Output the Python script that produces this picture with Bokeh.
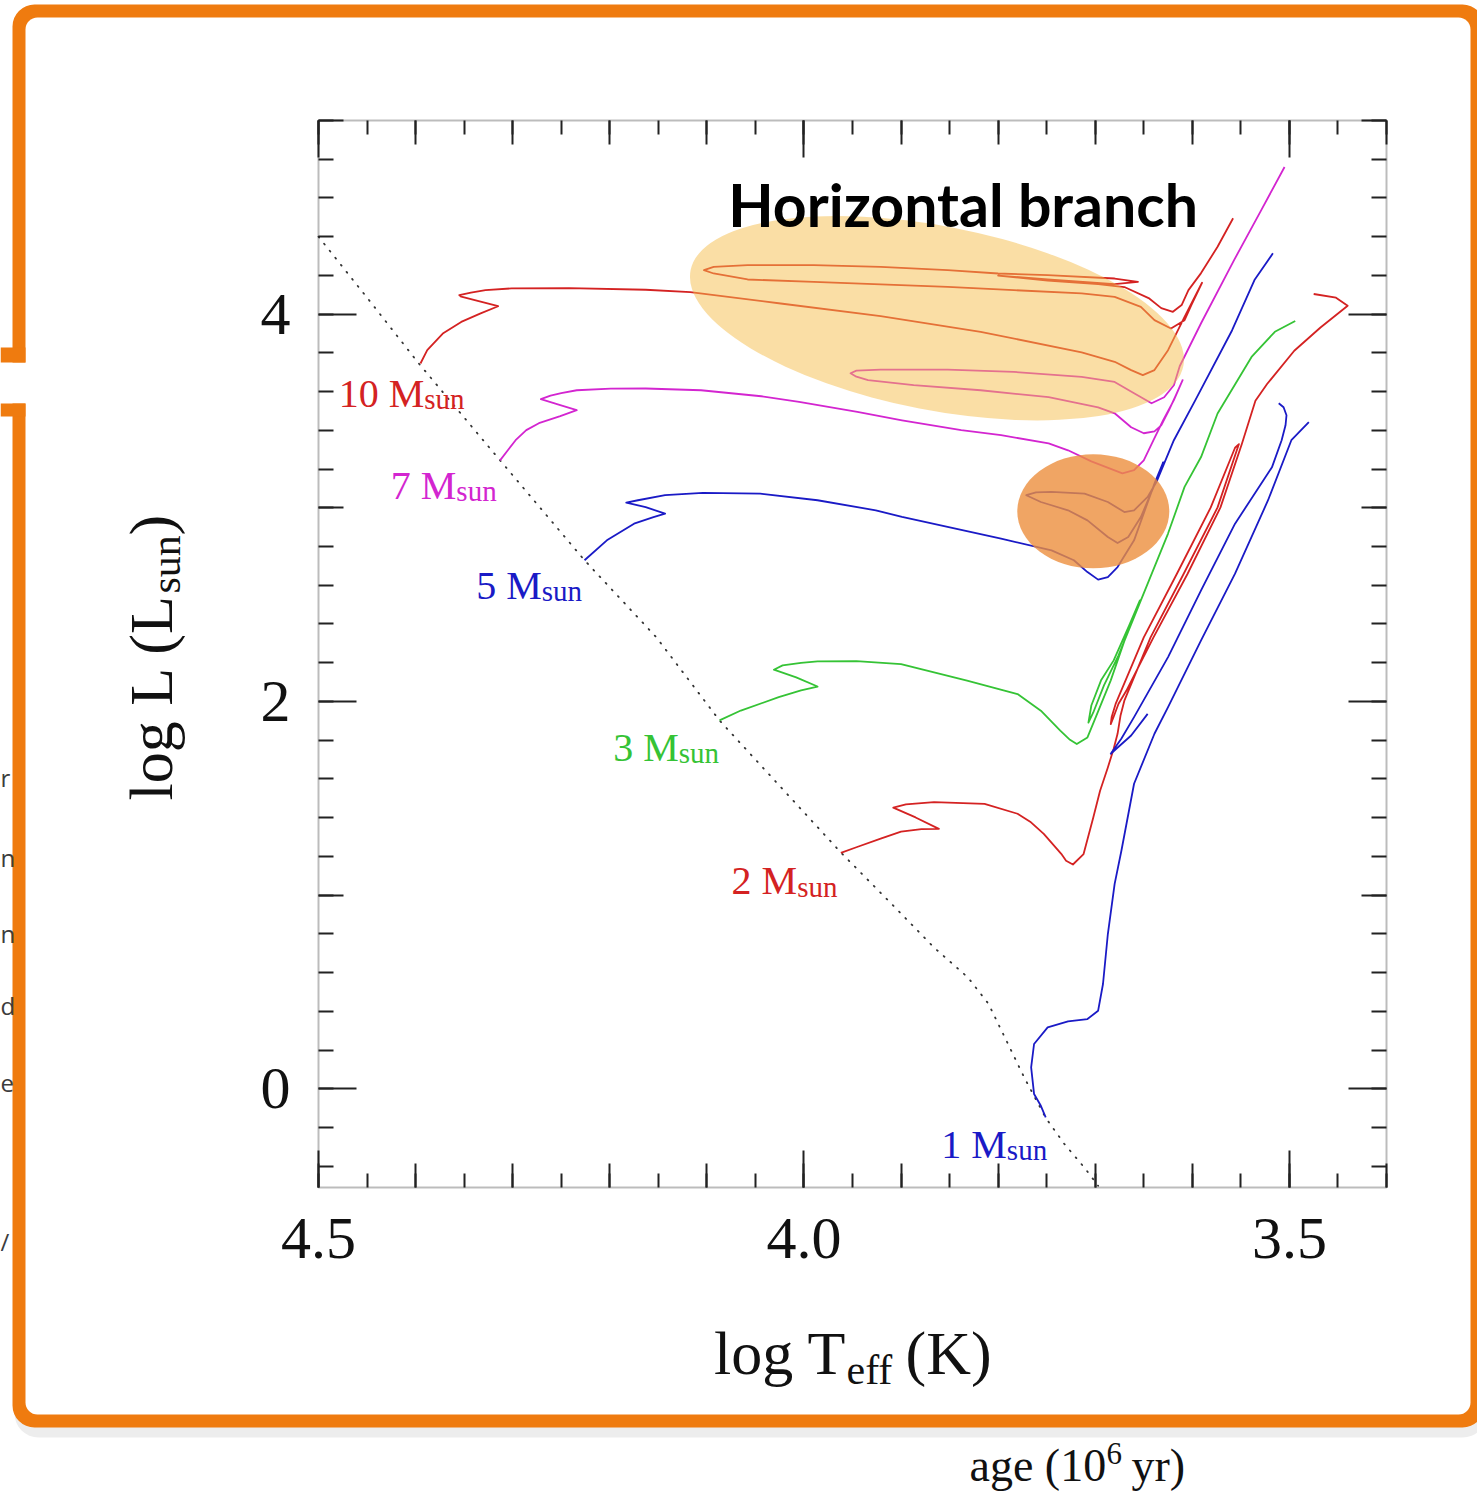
import numpy as np
from bokeh.plotting import figure
from bokeh.models import (Range1d, LinearAxis, FixedTicker, NumeralTickFormatter,
                          CustomJSTickFormatter, Label, BoxAnnotation)
from bokeh.embed import file_html
from bokeh.resources import INLINE

# ---------------------------------------------------------------- data
# zero-age main sequence (dotted locus)
zams_logt = [4.500, 4.446, 4.397, 4.313, 4.226, 4.152, 4.087, 3.962, 3.903, 3.866,
             3.831, 3.810, 3.790, 3.773, 3.751, 3.732, 3.711, 3.697]
zams_logl = [4.400, 4.060, 3.747, 3.245, 2.729, 2.331, 1.902, 1.220, 0.920, 0.729,
             0.574, 0.439, 0.233, 0.057, -0.150, -0.284, -0.408, -0.501]

# 10 Msun track
m10_logt = [4.395, 4.388, 4.372, 4.353, 4.333, 4.315, 4.333, 4.353, 4.355, 4.343,
            4.328, 4.301, 4.242, 4.163, 4.117, 4.024, 3.921, 3.818, 3.714, 3.680,
            3.663, 3.651, 3.639, 3.625, 3.608, 3.590, 3.601, 3.608, 3.622, 3.639,
            3.653, 3.680, 3.714, 3.784, 3.852, 3.921, 3.990, 4.058, 4.093, 4.103,
            4.093, 4.058, 3.990, 3.921, 3.852, 3.800, 3.749, 3.680, 3.656, 3.680,
            3.749, 3.800, 3.749, 3.697, 3.670, 3.645, 3.632, 3.620, 3.611, 3.604,
            3.591, 3.574, 3.558]
m10_logl = [3.745, 3.814, 3.900, 3.960, 4.004, 4.041, 4.065, 4.090, 4.098, 4.111,
            4.124, 4.133, 4.134, 4.126, 4.114, 4.055, 3.990, 3.909, 3.802, 3.754,
            3.711, 3.685, 3.711, 3.814, 3.986, 4.162, 4.047, 3.969, 3.926, 3.969,
            4.038, 4.089, 4.107, 4.124, 4.141, 4.154, 4.167, 4.179, 4.210, 4.227,
            4.244, 4.253, 4.253, 4.244, 4.227, 4.210, 4.201, 4.184, 4.167, 4.155,
            4.180, 4.199, 4.173, 4.155, 4.140, 4.083, 4.031, 4.012, 4.047, 4.124,
            4.212, 4.348, 4.495]

# 7 Msun track
m7_logt = [4.313, 4.305, 4.297, 4.286, 4.273, 4.251, 4.234, 4.251, 4.271, 4.261,
           4.250, 4.234, 4.199, 4.163, 4.106, 4.044, 4.005, 3.945, 3.899, 3.838,
           3.797, 3.748, 3.728, 3.704, 3.688, 3.672, 3.660, 3.650, 3.640, 3.630,
           3.619, 3.610, 3.617, 3.624, 3.632, 3.639, 3.650, 3.663, 3.680, 3.697,
           3.748, 3.818, 3.887, 3.934, 3.946, 3.952, 3.946, 3.921, 3.852, 3.784,
           3.714, 3.680, 3.660, 3.642, 3.629, 3.619, 3.613, 3.591, 3.557, 3.529,
           3.505]
m7_logl = [3.245, 3.297, 3.349, 3.401, 3.437, 3.473, 3.504, 3.530, 3.561, 3.579,
           3.592, 3.607, 3.615, 3.616, 3.607, 3.576, 3.547, 3.495, 3.452, 3.401,
           3.375, 3.333, 3.297, 3.240, 3.209, 3.178, 3.194, 3.245, 3.349, 3.452,
           3.556, 3.659, 3.581, 3.504, 3.426, 3.395, 3.385, 3.416, 3.488, 3.519,
           3.571, 3.607, 3.633, 3.659, 3.677, 3.695, 3.708, 3.714, 3.714, 3.702,
           3.676, 3.650, 3.592, 3.540, 3.571, 3.633, 3.731, 3.953, 4.279, 4.537,
           4.760]

# 5 Msun track
m5_logt = [4.226, 4.203, 4.175, 4.155, 4.143, 4.163, 4.183, 4.171, 4.143, 4.104,
           4.045, 3.986, 3.926, 3.899, 3.797, 3.745, 3.722, 3.708, 3.697, 3.687,
           3.677, 3.660, 3.639, 3.630, 3.637, 3.653, 3.666, 3.677, 3.687, 3.708,
           3.728, 3.756, 3.771, 3.761, 3.745, 3.711, 3.687, 3.670, 3.660, 3.646,
           3.637, 3.619, 3.597, 3.559, 3.536, 3.517]
m5_logl = [2.729, 2.832, 2.918, 2.952, 2.970, 3.003, 3.027, 3.039, 3.065, 3.077,
           3.073, 3.039, 2.987, 2.953, 2.841, 2.780, 2.729, 2.668, 2.629, 2.642,
           2.694, 2.832, 3.125, 3.235, 3.142, 2.952, 2.849, 2.818, 2.849, 2.935,
           2.987, 3.030, 3.065, 3.080, 3.082, 3.073, 3.030, 2.978, 2.987, 3.056,
           3.133, 3.349, 3.555, 3.917, 4.176, 4.314]

# 3 Msun track
m3_logt = [4.087, 4.065, 4.026, 4.003, 3.986, 4.008, 4.031, 4.022, 4.003, 3.986,
           3.946, 3.900, 3.832, 3.780, 3.756, 3.736, 3.726, 3.719, 3.708, 3.701,
           3.684, 3.668, 3.654, 3.665, 3.681, 3.694, 3.704, 3.707, 3.702, 3.691,
           3.676, 3.653, 3.625, 3.608, 3.591, 3.574, 3.539, 3.515, 3.494]
m3_logl = [1.902, 1.953, 2.022, 2.057, 2.077, 2.124, 2.164, 2.186, 2.199, 2.207,
           2.208, 2.193, 2.107, 2.038, 1.952, 1.849, 1.802, 1.780, 1.814, 1.900,
           2.109, 2.341, 2.522, 2.393, 2.212, 2.109, 1.979, 1.891, 1.943, 2.083,
           2.238, 2.522, 2.867, 3.108, 3.262, 3.487, 3.779, 3.909, 3.965]

# 2 Msun track
m2_logt = [3.962, 3.946, 3.921, 3.900, 3.879, 3.861, 3.885, 3.908, 3.895, 3.866,
           3.814, 3.780, 3.767, 3.753, 3.735, 3.730, 3.723, 3.712, 3.702, 3.695,
           3.687, 3.681, 3.677, 3.674, 3.670, 3.643, 3.609, 3.574, 3.552, 3.556,
           3.581, 3.616, 3.650, 3.679, 3.683, 3.684, 3.681, 3.676, 3.668, 3.640,
           3.605, 3.571, 3.549, 3.535, 3.523, 3.495, 3.468, 3.440, 3.452, 3.475]
m2_logl = [1.218, 1.247, 1.292, 1.328, 1.341, 1.342, 1.401, 1.452, 1.468, 1.480,
           1.471, 1.420, 1.379, 1.316, 1.213, 1.177, 1.158, 1.212, 1.401, 1.539,
           1.659, 1.756, 1.833, 1.926, 2.004, 2.331, 2.658, 3.002, 3.329, 3.310,
           3.002, 2.658, 2.331, 1.987, 1.921, 1.883, 1.921, 1.988, 2.055, 2.331,
           2.658, 3.002, 3.329, 3.553, 3.639, 3.811, 3.931, 4.043, 4.085, 4.104]

# 1 Msun: main sequence + red giant branch, then core-helium burning + AGB
m1_logt = [3.751, 3.756, 3.763, 3.766, 3.763, 3.749, 3.728, 3.708, 3.697, 3.692,
           3.687, 3.680, 3.673, 3.660, 3.639, 3.625, 3.591, 3.556, 3.522, 3.498,
           3.480]
m1_logl = [-0.148, -0.088, -0.027, 0.110, 0.231, 0.317, 0.348, 0.360, 0.403, 0.541,
           0.799, 1.058, 1.230, 1.575, 1.833, 1.971, 2.315, 2.660, 3.039, 3.349,
           3.442]
m1hb_logt = [3.646, 3.663, 3.678, 3.684, 3.673, 3.660, 3.625, 3.591, 3.556, 3.518,
             3.508, 3.504, 3.503, 3.506, 3.511]
m1hb_logl = [1.936, 1.824, 1.757, 1.730, 1.809, 1.919, 2.229, 2.574, 2.918, 3.209,
             3.349, 3.426, 3.478, 3.519, 3.540]

# mass labels: logT where "M" ends, baseline logL
label_mass = ["10", "7", "5", "3", "2", "1"]
label_logt = [4.391, 4.358, 4.270, 4.129, 4.007, 3.791]
label_logl = [3.514, 3.039, 2.522, 1.686, 0.997, -0.363]

# highlighted regions (logT, logL)
hb_center = (3.863, 3.979)
loop_center = (3.702, 2.982)

# axis ticks
x_fine = [round(3.4 + 0.05 * i, 2) for i in range(23)]
x_mid = [round(3.4 + 0.1 * i, 1) for i in range(12)]
x_main = [4.5, 4.0, 3.5]
y_fine = [round(-0.4 + 0.2 * i, 1) for i in range(28)]
y_mid = [1, 3, 5]
y_main = [0, 2, 4]

# ---------------------------------------------------------------- layout
RED = "#d42222"
MAGENTA = "#d325d0"
BLUE = "#1a1ac6"
GREEN = "#35c335"
INK = "#222222"
ORANGE = "#EF7B0F"
SERIF = "Liberation Serif"
track_colors = [RED, MAGENTA, BLUE, GREEN, RED, BLUE]

W, H = 1477, 1495                      # page size
FL, FR, FT, FB = 318, 1386, 120, 1187  # diagram box on the page
X_LEFT, X_RIGHT = 4.5, 3.4             # log Teff at box edges
Y_BOT, Y_TOP = -0.51, 5.0              # log L at box edges
kx = (FR - FL) / (X_LEFT - X_RIGHT)
ky = (FB - FT) / (Y_TOP - Y_BOT)

p = figure(width=W, height=H,
           x_range=Range1d(X_LEFT + FL / kx, X_RIGHT - (W - FR) / kx),
           y_range=Range1d(Y_BOT - (H - FB) / ky, Y_TOP + FT / ky),
           output_backend="svg", toolbar_location=None,
           x_axis_location=None, y_axis_location=None,
           min_border_left=0, min_border_right=0, min_border_top=0, min_border_bottom=0,
           background_fill_color="white", border_fill_color="white",
           outline_line_color=None)
p.grid.visible = False


def canvas_box(left, right, top, bottom, color, radius=0, alpha=1.0):
    p.add_layout(BoxAnnotation(left=left, right=right, top=top, bottom=bottom,
                               left_units="canvas", right_units="canvas",
                               top_units="canvas", bottom_units="canvas",
                               fill_color=color, fill_alpha=alpha, line_color=None,
                               border_radius=radius, level="underlay"))


# orange call-out frame
canvas_box(14, 1486, 6, 1437, "#000000", radius=24, alpha=0.07)
canvas_box(12, 1484, 4, 1427, ORANGE, radius=22)
canvas_box(25, 1470, 17, 1414, "white", radius=12)
canvas_box(0, 30, 362, 403, "white")
canvas_box(0, 25, 347, 362, ORANGE)
canvas_box(0, 25, 403, 416, ORANGE)

# diagram box
p.add_layout(BoxAnnotation(left=X_LEFT, right=X_RIGHT, top=Y_TOP, bottom=Y_BOT,
                           fill_color=None, line_color=INK, line_width=2))


def tick_axis(side, loc, ticks, minor, major_len, minor_len,
              fmt=None, size=None, standoff=0):
    ax = LinearAxis(fixed_location=loc,
                    ticker=FixedTicker(ticks=ticks, minor_ticks=minor),
                    major_tick_in=major_len, major_tick_out=0,
                    minor_tick_in=minor_len, minor_tick_out=0,
                    axis_line_color=None,
                    major_tick_line_color=INK, major_tick_line_width=2,
                    minor_tick_line_color=INK, minor_tick_line_width=2,
                    major_label_standoff=standoff)
    if fmt is None:
        ax.formatter = CustomJSTickFormatter(code="return ''")
        ax.major_label_text_font_size = "0px"
        ax.major_label_text_color = None
    else:
        ax.formatter = NumeralTickFormatter(format=fmt)
        ax.major_label_text_font = SERIF
        ax.major_label_text_font_size = size
        ax.major_label_text_color = "#111111"
    p.add_layout(ax, side)


tick_axis("below", Y_BOT, x_fine, [], 14, 0)
tick_axis("below", Y_BOT, x_main, x_mid, 37, 24, "0.0", "60px", 31)
tick_axis("above", Y_TOP, x_fine, [], 14, 0)
tick_axis("above", Y_TOP, x_main, x_mid, 37, 24)
tick_axis("left", X_LEFT, y_fine, [], 15, 0)
tick_axis("left", X_LEFT, y_main, y_mid, 38, 25, "0", "60px", 28)
tick_axis("right", X_RIGHT, y_fine, [], 15, 0)
tick_axis("right", X_RIGHT, y_main, y_mid, 38, 25)

# ZAMS
p.line(zams_logt, zams_logl, line_color="#333333", line_width=1.8,
       line_dash="1 8", line_cap="round")

# evolutionary tracks
tracks = [(m10_logt, m10_logl), (m7_logt, m7_logl), (m5_logt, m5_logl),
          (m3_logt, m3_logl), (m2_logt, m2_logl), (m1_logt, m1_logl)]
for (lt, ll), col in zip(tracks, track_colors):
    p.line(lt, ll, line_color=col, line_width=1.8, line_join="round")
p.line(m1hb_logt, m1hb_logl, line_color=BLUE, line_width=1.8, line_join="round")

# highlighted regions
p.ellipse(x=[hb_center[0]], y=[hb_center[1]], width=[502], height=[184],
          width_units="screen", height_units="screen", angle=np.deg2rad(-11),
          fill_color="#F5BD4B", fill_alpha=0.5, line_color=None)
p.ellipse(x=[loop_center[0]], y=[loop_center[1]], width=[152], height=[114],
          width_units="screen", height_units="screen",
          fill_color="#EC8E3D", fill_alpha=0.8, line_color=None)

LIFT = 0.37   # baseline correction, in em


def lift(size):
    return round(LIFT * size)


# mass labels
for m, lt, ll, col in zip(label_mass, label_logt, label_logl, track_colors):
    p.add_layout(Label(x=lt, y=ll, y_offset=lift(40), text=f"{m} M", text_align="right",
                       text_baseline="alphabetic", text_font=SERIF,
                       text_font_size="40px", text_color=col))
    p.add_layout(Label(x=lt, y=ll, y_offset=lift(29) - 2, text="sun", text_align="left",
                       text_baseline="alphabetic", text_font=SERIF,
                       text_font_size="29px", text_color=col))

p.add_layout(Label(x=4.078, y=4.455, y_offset=lift(59), text="Horizontal branch",
                   text_font="Lato", text_font_style="bold", text_font_size="59px",
                   text_color="black", text_baseline="alphabetic"))


def canvas_text(x, y, text, size, align="left", angle=0.0, color="#111111", font=SERIF):
    if angle == 0.0:
        y = y - lift(size)
    else:
        x = x - lift(size)
    p.add_layout(Label(x=x, y=y, x_units="canvas", y_units="canvas", text=text,
                       text_align=align, text_baseline="alphabetic", angle=angle,
                       text_font=font, text_font_size=f"{size}px", text_color=color))


# axis titles
canvas_text(846, 1375, "log T", 62, align="right")
canvas_text(846, 1385, "eff", 42)
canvas_text(905, 1375, "(K)", 62)
canvas_text(173, 800, "log L (L", 62, angle=np.pi / 2)
canvas_text(181, 593, "sun", 42, angle=np.pi / 2)
canvas_text(173, 535, ")", 62, angle=np.pi / 2)

# surrounding page text
canvas_text(969, 1482, "age (10", 46)
canvas_text(1106, 1464, "6", 31)
canvas_text(1131, 1482, "yr)", 46)
for ch, yb in [("r", 786), ("n", 866), ("n", 942), ("d", 1014), ("e", 1092), ("/", 1250)]:
    canvas_text(0, yb, ch, 24, color="#3c3c3c", font="Open Sans")

open("out.html", "w").write(file_html(p, INLINE))
